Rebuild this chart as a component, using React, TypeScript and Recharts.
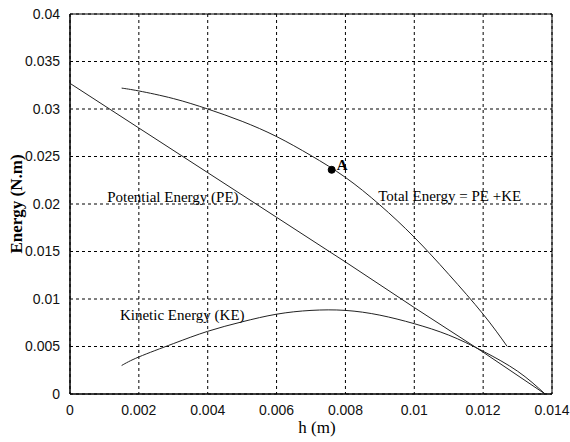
import {
  LineChart,
  Line,
  XAxis,
  YAxis,
  CartesianGrid,
  ReferenceArea,
  ReferenceDot,
  Label,
} from "recharts";

// h values (m) and energies (N.m)
const hPE = [0, 0.002, 0.004, 0.006, 0.008, 0.01, 0.012, 0.0138];
const pe = [0.0327, 0.028, 0.0233, 0.0186, 0.0139, 0.0091, 0.0044, 0];

const hKE = [
  0.0015, 0.002, 0.003, 0.004, 0.005, 0.006, 0.007, 0.008, 0.009, 0.01, 0.011,
  0.012, 0.013, 0.0138,
];
const ke = [
  0.003, 0.0039, 0.0053, 0.0066, 0.0076, 0.0084, 0.0088, 0.0088, 0.0083,
  0.0074, 0.0062, 0.0045, 0.0024, 0,
];

const hTot = [
  0.0015, 0.002, 0.003, 0.004, 0.005, 0.006, 0.007, 0.008, 0.009, 0.01, 0.011,
  0.012, 0.0127,
];
const total = [
  0.0322, 0.0319, 0.0311, 0.03, 0.0287, 0.0271, 0.0251, 0.0228, 0.0199, 0.0165,
  0.0126, 0.0084, 0.005,
];

const pointA = { h: 0.0076, e: 0.0236, name: "A" };

const xTicks = [0, 0.002, 0.004, 0.006, 0.008, 0.01, 0.012, 0.014];
const yTicks = [0, 0.005, 0.01, 0.015, 0.02, 0.025, 0.03, 0.035, 0.04];

// curve labels, anchored (left edge, vertical middle) in data coords
const notes = [
  { h: 0.00108, e: 0.0207, text: "Potential Energy (PE)" },
  { h: 0.00895, e: 0.0208, text: "Total Energy = PE +KE" },
  { h: 0.00145, e: 0.0083, text: "Kinetic Energy (KE)" },
];

const zip = (xs: number[], ys: number[]) => xs.map((x, i) => ({ x, y: ys[i] }));

const fmt = (v: number) => String(parseFloat(v.toFixed(4)));

const serif = "'Liberation Serif', 'Times New Roman', serif";
const sans = "'Liberation Sans', Arial, sans-serif";

export default function App() {
  const peData = zip(hPE, pe);
  const keData = zip(hKE, ke);
  const totData = zip(hTot, total);

  return (
    <div style={{ width: 570, height: 442, background: "#fff" }}>
      <style>{`html,body{margin:0;padding:0;overflow:hidden;}`}</style>
      <LineChart
        width={570}
        height={442}
        margin={{ top: 14, right: 18, bottom: 0, left: 0 }}
      >
        <CartesianGrid stroke="#000" strokeDasharray="3 3" strokeWidth={1} />
        <XAxis
          type="number"
          dataKey="x"
          domain={[0, 0.014]}
          ticks={xTicks}
          tickFormatter={fmt}
          allowDataOverflow
          height={48}
          tickLine={false}
          axisLine={{ stroke: "#000" }}
          tick={{ fill: "#111", fontSize: 14, fontFamily: sans }}
          tickMargin={5}
        >
          <Label
            content={({ viewBox }: any) => (
              <text
                x={viewBox.x + viewBox.width / 2 + 6}
                y={viewBox.y + 39}
                textAnchor="middle"
                fontFamily={serif}
                fontSize={17}
                fill="#000"
              >
                h (m)
              </text>
            )}
          />
        </XAxis>
        <YAxis
          type="number"
          dataKey="y"
          domain={[0, 0.04]}
          ticks={yTicks}
          tickFormatter={fmt}
          allowDataOverflow
          width={70}
          tickLine={false}
          axisLine={{ stroke: "#000" }}
          tick={{ fill: "#111", fontSize: 14, fontFamily: sans }}
          tickMargin={4}
        >
          <Label
            content={({ viewBox }: any) => {
              const cx = 22;
              const cy = viewBox.y + viewBox.height / 2;
              return (
                <text
                  x={cx}
                  y={cy}
                  transform={`rotate(-90, ${cx}, ${cy})`}
                  textAnchor="middle"
                  fontFamily={serif}
                  fontWeight="bold"
                  fontSize={17}
                  fill="#000"
                >
                  Energy (N.m)
                </text>
              );
            }}
          />
        </YAxis>
        <ReferenceArea
          x1={0}
          x2={0.014}
          y1={0}
          y2={0.04}
          fill="none"
          stroke="#000"
          strokeWidth={1}
        />
        <Line
          data={peData}
          dataKey="y"
          type="linear"
          stroke="#222"
          strokeWidth={1}
          dot={false}
          isAnimationActive={false}
        />
        <Line
          data={keData}
          dataKey="y"
          type="natural"
          stroke="#222"
          strokeWidth={1}
          dot={false}
          isAnimationActive={false}
        />
        <Line
          data={totData}
          dataKey="y"
          type="natural"
          stroke="#222"
          strokeWidth={1}
          dot={false}
          isAnimationActive={false}
        />
        {notes.map((n) => (
          <ReferenceDot
            key={n.text}
            x={n.h}
            y={n.e}
            r={0}
            stroke="none"
            fill="none"
            label={(props: any) => {
              const { viewBox } = props;
              return (
                <text
                  x={viewBox.x}
                  y={viewBox.y + 5}
                  fontFamily={serif}
                  fontSize={15}
                  fill="#000"
                >
                  {n.text}
                </text>
              );
            }}
          />
        ))}
        <ReferenceDot
          x={pointA.h}
          y={pointA.e}
          r={3.5}
          fill="#000"
          stroke="#000"
          label={(props: any) => {
            const { viewBox } = props;
            const cx = viewBox.x + viewBox.width / 2;
            const cy = viewBox.y + viewBox.height / 2;
            return (
              <text
                x={cx + 5}
                y={cy}
                fontFamily={serif}
                fontWeight="bold"
                fontSize={15}
                fill="#000"
              >
                {pointA.name}
              </text>
            );
          }}
        />
      </LineChart>
    </div>
  );
}
